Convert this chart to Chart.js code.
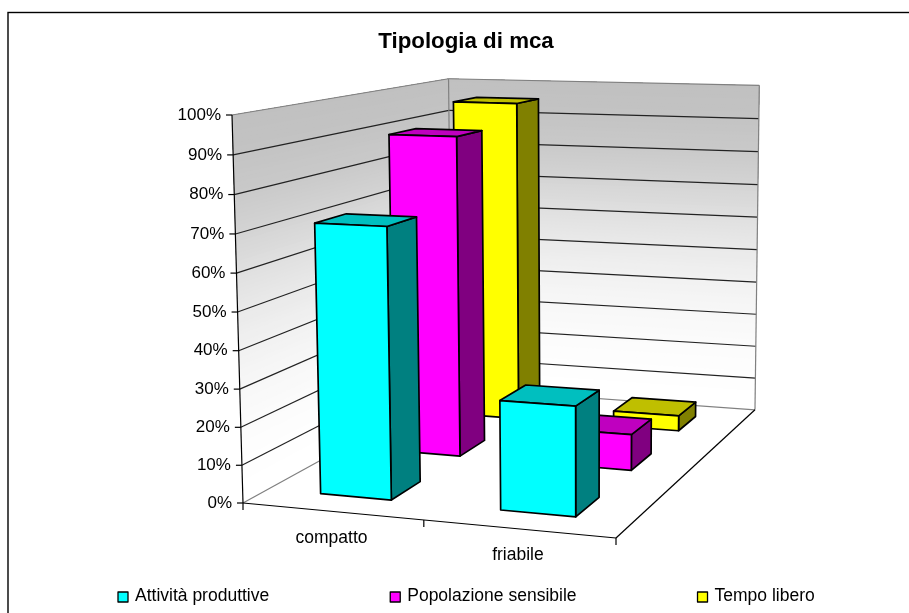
<!DOCTYPE html>
<html>
<head>
<meta charset="utf-8">
<title>Tipologia di mca</title>
<script src="https://cdn.jsdelivr.net/npm/chart.js@4/dist/chart.umd.min.js"></script>
<style>
  html, body { margin:0; padding:0; background:#fff; overflow:hidden; }
  canvas { display:block; }
</style>
</head>
<body>
<canvas id="chart" width="909" height="613"></canvas>
<script>
// DATA (values in %)
const categories = ['compatto', 'friabile'];
const seriesNames = ['Attività produttive', 'Popolazione sensibile', 'Tempo libero'];
const attivita = [71.5, 28.5];
const popolazione = [90, 10];
const tempoLibero = [95.5, 4.5];
const seriesColors = ['#00ffff', '#ff00ff', '#ffff00'];

// wall grey at 0%, 10%, ... 100% of the value axis
const wallGreys = [255, 254, 251, 247, 241, 233, 223, 211, 201, 195, 192];

// box corners on screen: [u along categories, v up the value axis, w into the depth]
const boxCorners = [
  [0, 0, 0, 243, 503],
  [1, 0, 0, 616, 538],
  [0, 1, 0, 232, 115],
  [0, 0, 1, 452, 388],
  [1, 0, 1, 754, 410],
  [0, 1, 1, 449, 78],
  [1, 1, 1, 759, 85]
];
const barShare = 0.4; // bar size vs its cell, same along u and w

// PERSPECTIVE: solve the 3 denominators from the corners (normal equations)
function solve3(A, b){
  const m = A.map((row, i) => [...row, b[i]]);
  for(let i = 0; i < 3; i++){
    let p = i;
    for(let r = i + 1; r < 3; r++) if(Math.abs(m[r][i]) > Math.abs(m[p][i])) p = r;
    [m[i], m[p]] = [m[p], m[i]];
    for(let r = 0; r < 3; r++){
      if(r === i) continue;
      const f = m[r][i] / m[i][i];
      for(let c = i; c < 4; c++) m[r][c] -= f * m[i][c];
    }
  }
  return m.map((row, i) => row[3] / row[i]);
}

function buildCamera(){
  const [O, U, V, W] = boxCorners;
  const ata = [[0,0,0],[0,0,0],[0,0,0]], atb = [0,0,0];
  boxCorners.slice(4).forEach(p => {
    [3, 4].forEach(k => {
      const X = p[k];
      const row = [p[0]*(U[k]-X), p[1]*(V[k]-X), p[2]*(W[k]-X)];
      const rhs = X - O[k] - p[0]*(U[k]-O[k]) - p[1]*(V[k]-O[k]) - p[2]*(W[k]-O[k]);
      for(let i = 0; i < 3; i++){
        atb[i] += row[i]*rhs;
        for(let j = 0; j < 3; j++) ata[i][j] += row[i]*row[j];
      }
    });
  });
  const [g, h, i] = solve3(ata, atb);
  return (u, v, w) => {
    const d = 1 + g*u + h*v + i*w;
    const axis = k => (u*((1+g)*U[k]-O[k]) + v*((1+h)*V[k]-O[k]) + w*((1+i)*W[k]-O[k]) + O[k]) / d;
    return [axis(3), axis(4)];
  };
}
const project = buildCamera();

function shade(hex, f){
  const n = parseInt(hex.slice(1), 16);
  const c = s => Math.round(((n >> s) & 255) * f);
  return `rgb(${c(16)},${c(8)},${c(0)})`;
}

function polygon(ctx, pts, fill, stroke, lw){
  ctx.beginPath();
  pts.forEach((p, i) => i ? ctx.lineTo(p[0], p[1]) : ctx.moveTo(p[0], p[1]));
  ctx.closePath();
  if(fill){ ctx.fillStyle = fill; ctx.fill(); }
  if(stroke){ ctx.strokeStyle = stroke; ctx.lineWidth = lw; ctx.lineJoin = 'round'; ctx.stroke(); }
}

function segment(ctx, a, b, color, lw){
  ctx.beginPath();
  ctx.moveTo(a[0], a[1]);
  ctx.lineTo(b[0], b[1]);
  ctx.strokeStyle = color;
  ctx.lineWidth = lw;
  ctx.stroke();
}

// BARS: normal bar controller for parsing, 3D boxes for drawing
class Bar3D extends Chart.BarController {
  draw(){
    const meta = this._cachedMeta;
    const ctx = this.chart.ctx;
    const { x, y, z } = this.chart.scales;
    const color = this.getDataset().backgroundColor;
    const w0 = (z.getPixelForValue(meta.index) - z.left) / z.width;
    const du = barShare / categories.length / 2;
    const dw = barShare / seriesNames.length / 2;
    meta.data.forEach((el, i) => {
      const u0 = (x.getPixelForValue(i) - x.left) / x.width;
      const top = (y.bottom - y.getPixelForValue(this.getParsed(i).y)) / y.height;
      const P = (su, v, sw) => project(u0 + su*du, v, w0 + sw*dw);
      ctx.save();
      // side, top, front
      polygon(ctx, [P(1,0,-1), P(1,0,1), P(1,top,1), P(1,top,-1)], shade(color, 0.5), '#000', 1.7);
      polygon(ctx, [P(-1,top,-1), P(1,top,-1), P(1,top,1), P(-1,top,1)], shade(color, 0.75), '#000', 1.7);
      polygon(ctx, [P(-1,0,-1), P(1,0,-1), P(1,top,-1), P(-1,top,-1)], color, '#000', 1.7);
      ctx.restore();
    });
  }
}
Bar3D.id = 'bar3d';
Chart.register(Bar3D);

// WALLS, FLOOR, AXES, FRAME
const box3d = {
  id: 'box3d',
  beforeDraw(chart){
    const ctx = chart.ctx;
    ctx.save();
    ctx.fillStyle = '#fff';
    ctx.fillRect(0, 0, chart.width, chart.height);
    ctx.strokeStyle = '#000';
    ctx.lineWidth = 1.4;
    ctx.strokeRect(8, 12.5, chart.width + 20, chart.height + 20);
    ctx.restore();
  },
  beforeDatasetsDraw(chart){
    const ctx = chart.ctx;
    const { x, y } = chart.scales;
    const level = v => (y.bottom - y.getPixelForValue(v)) / y.height;
    ctx.save();

    // wall gradient: paint from the floor up so there are no seams
    for(let s = 0; s < 100; s++){
      const v = s / 100;
      const k = Math.floor(s / 10);
      const c = Math.round(wallGreys[k] + (wallGreys[k+1] - wallGreys[k]) * (s % 10) / 10);
      const col = `rgb(${c},${c},${c})`;
      polygon(ctx, [project(0,v,0), project(0,v,1), project(0,1,1), project(0,1,0)], col);
      polygon(ctx, [project(0,v,1), project(1,v,1), project(1,1,1), project(0,1,1)], col);
    }

    // grid lines from the value scale
    y.ticks.forEach(t => {
      const v = level(t.value);
      const edge = t.value === 0 || t.value === 100;
      segment(ctx, project(0,v,0), project(0,v,1), edge ? '#808080' : '#222', 1.2);
      segment(ctx, project(0,v,1), project(1,v,1), edge ? '#808080' : '#222', 1.2);
    });
    segment(ctx, project(0,0,1), project(0,1,1), '#808080', 1.2);
    segment(ctx, project(1,0,1), project(1,1,1), '#808080', 1.2);

    // axes lines and ticks
    segment(ctx, project(0,0,0), project(0,1,0), '#000', 1.2);
    segment(ctx, project(0,0,0), project(1,0,0), '#000', 1.2);
    segment(ctx, project(1,0,0), project(1,0,1), '#000', 1.2);
    ctx.fillStyle = '#000';
    ctx.font = '17px "Liberation Sans"';
    ctx.textBaseline = 'middle';
    ctx.textAlign = 'right';
    y.ticks.forEach(t => {
      const p = project(0, level(t.value), 0);
      segment(ctx, [p[0]-6, p[1]], p, '#000', 1.2);
      ctx.fillText(t.label, p[0]-11, p[1]);
    });
    [0, 1, 2].forEach(i => {
      const p = project(i / categories.length, 0, 0);
      segment(ctx, p, [p[0], p[1]+7], '#000', 1.2);
    });
    ctx.font = '17.5px "Liberation Sans"';
    ctx.textAlign = 'center';
    categories.forEach((name, i) => {
      const p = project((x.getPixelForValue(i) - x.left) / x.width, 0, 0);
      ctx.fillText(name, p[0]-0.5, p[1]+26.5);
    });

    // legend
    ctx.textAlign = 'left';
    let lx = 118;
    seriesNames.forEach((name, i) => {
      polygon(ctx, [[lx,592],[lx+10,592],[lx+10,602],[lx,602]], seriesColors[i], '#000', 1.3);
      ctx.fillStyle = '#000';
      ctx.fillText(name, lx+17, 596);
      lx += 17 + ctx.measureText(name).width + 121;
    });
    ctx.restore();
  }
};

const datasets = [attivita, popolazione, tempoLibero].map((data, i) => ({
  label: seriesNames[i],
  data,
  backgroundColor: seriesColors[i]
}));

new Chart(document.getElementById('chart'), {
  type: 'bar3d',
  data: { labels: categories, datasets },
  plugins: [box3d],
  options: {
    responsive: false,
    animation: false,
    layout: { padding: { left: 23, top: 16 } },
    plugins: {
      legend: { display: false },
      tooltip: { enabled: false },
      title: {
        display: true,
        text: 'Tipologia di mca',
        color: '#000',
        font: { family: '"Liberation Sans"', size: 22.3, weight: 'bold' },
        padding: { top: 12, bottom: 10 }
      }
    },
    scales: {
      x: { type: 'category', display: false },
      y: { type: 'linear', display: false, min: 0, max: 100, ticks: { stepSize: 10, callback: v => v + '%' } },
      z: { type: 'category', axis: 'x', display: false, labels: seriesNames }
    }
  }
});
</script>
</body>
</html>
